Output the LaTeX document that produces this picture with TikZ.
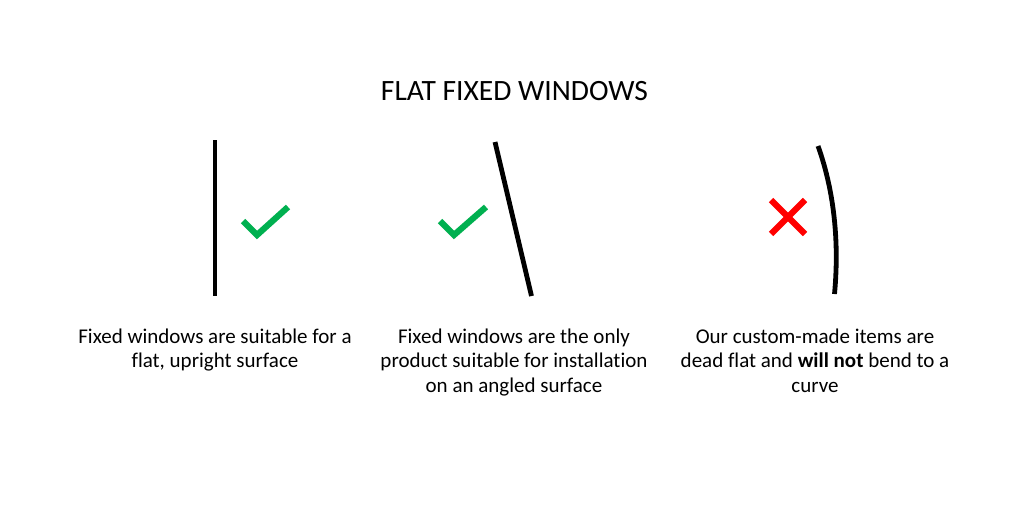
\documentclass[tikz,border=0pt]{standalone}
\usepackage{fontspec}
\setmainfont[Ligatures=NoCommon]{Carlito}
\begin{document}
\begin{tikzpicture}[x=1pt,y=-1pt,
  lbl/.style={font=\fontsize{21}{24.5}\selectfont,align=center,inner sep=0pt,anchor=center,text=black},
  wall/.style={line width=4.8pt,black},
  okmark/.style={line width=6.2pt,draw={rgb,255:red,0;green,176;blue,80}},
  nomark/.style={line width=6.2pt,draw={rgb,255:red,255;green,0;blue,0}}]
\useasboundingbox (0,0) rectangle (1030,515);
\fill[white] (0,0) rectangle (1030,515);
\node[lbl,font=\fontsize{29.5}{34}\selectfont] (title) at (514.5,91) {FLAT FIXED WINDOWS};
\coordinate (a1) at (215,140); \coordinate (a2) at (215,296);
\draw[wall] (a1) -- (a2);
\coordinate (b1) at (495,142); \coordinate (b2) at (531.5,296);
\draw[wall] (b1) -- (b2);
\coordinate (c1) at (818,146); \coordinate (c2) at (834.5,294);
\draw[wall] (c1) .. controls (832,185) and (840,235) .. (c2);
\draw[okmark] (243,221) -- (257,235) -- (288,207);
\draw[okmark] (440,221) -- (454,235) -- (486,207);
\draw[nomark] (771,200) -- (805,234);
\draw[nomark] (805,200) -- (771,234);
\node[lbl] (t1) at (215,350) {Fixed windows are suitable for a\\flat, upright surface};
\node[lbl] (t2) at (514,362.5) {Fixed windows are the only\\product suitable for installation\\on an angled surface};
\node[lbl] (t3) at (815,360.5) {Our custom-made items are\\dead flat and \textbf{will not} bend to a\\curve};
\end{tikzpicture}
\end{document}
